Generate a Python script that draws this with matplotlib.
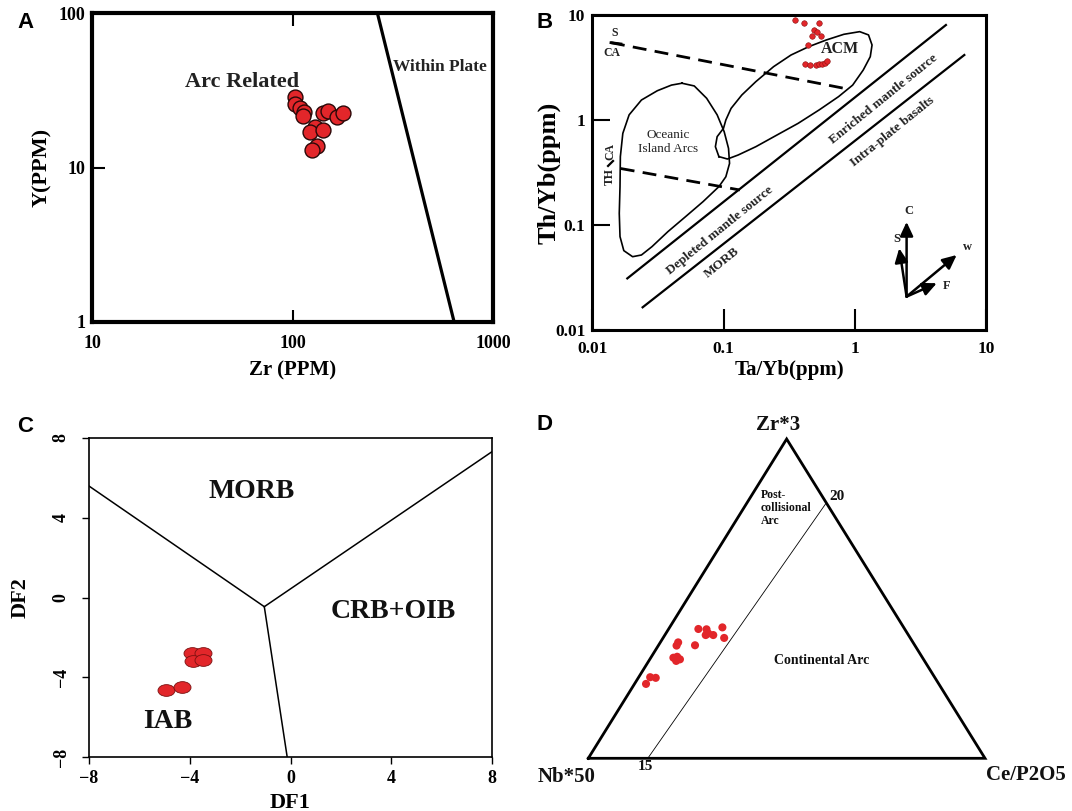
import numpy as np
import matplotlib
matplotlib.use('Agg')
import matplotlib.pyplot as plt
from matplotlib.path import Path
from matplotlib.transforms import Affine2D
from matplotlib.ticker import NullLocator, FixedLocator

SERIF = 'Liberation Serif'
SANS = 'Liberation Sans'
RED = '#e2262a'

plt.rcParams['font.family'] = [SERIF, 'DejaVu Serif']
plt.rcParams['font.weight'] = 'bold'
plt.rcParams['axes.labelweight'] = 'bold'

# ---------------- Panel A data: Zr vs Y ----------------
a_zr = [103, 103, 109, 114, 113, 142, 150, 167, 179, 130, 122, 142, 133, 125]
a_y = [28.7, 25.8, 24.3, 22.9, 21.5, 22.5, 23.2, 21.2, 22.5, 18.3, 17.0, 17.5, 13.8, 13.0]
a_wp_zr = [265, 640]
a_wp_y = [100, 1]
a_xticks = [10, 100, 1000]
a_yticks = [1, 10, 100]

# ---------------- Panel B data: Ta/Yb vs Th/Yb ----------------
b_ta = [0.351, 0.412, 0.535, 0.487, 0.512, 0.467, 0.551, 0.438,
        0.418, 0.458, 0.502, 0.530, 0.556, 0.586, 0.615]
b_th = [8.96, 8.45, 8.33, 7.20, 6.94, 6.35, 6.35, 5.18,
        3.39, 3.37, 3.32, 3.38, 3.45, 3.52, 3.62]
b_upper_x = [0.0185, 4.92]
b_upper_y = [0.031, 8.03]
b_lower_x = [0.0242, 6.79]
b_lower_y = [0.01645, 4.16]
b_dash1_x = [0.0139, 0.903]
b_dash1_y = [5.45, 1.96]
b_dash2_x = [0.0165, 0.133]
b_dash2_y = [0.345, 0.2155]
b_sca_x = [0.0139, 0.01655]
b_sca_y = [5.45, 5.30]
b_thca_x = [0.0132, 0.0144]
b_thca_y = [0.365, 0.407]
b_oia_x = [0.0482, 0.0598, 0.0743, 0.0893, 0.101, 0.109, 0.111, 0.104, 0.0921,
           0.0698, 0.0513, 0.0377, 0.0285, 0.0237, 0.0203, 0.0174, 0.01628,
           0.01607, 0.01628, 0.01638, 0.0171, 0.0191, 0.0237, 0.0313, 0.0401, 0.0482]
b_oia_y = [2.24, 2.11, 1.61, 1.12, 0.774, 0.537, 0.386, 0.288, 0.232,
           0.167, 0.120, 0.0865, 0.0622, 0.0518, 0.0499, 0.0570, 0.0775,
           0.129, 0.232, 0.448, 0.746, 1.12, 1.55, 1.90, 2.15, 2.24]
b_acm_x = [0.0921, 0.0866, 0.0893, 0.0998, 0.104, 0.114, 0.1376, 0.176, 0.240,
           0.326, 0.444, 0.604, 0.823, 1.086, 1.267, 1.348, 1.307, 1.155, 0.960,
           0.750, 0.535, 0.369, 0.255, 0.176, 0.129, 0.107, 0.0921]
b_acm_y = [0.448, 0.557, 0.694, 0.833, 1.0, 1.29, 1.73, 2.32, 3.22,
           4.16, 4.99, 5.78, 6.55, 6.94, 6.46, 5.18, 4.01, 2.99, 2.15,
           1.67, 1.25, 0.929, 0.720, 0.557, 0.464, 0.425, 0.448]
b_vec_origin = (2.47, 0.0208)
b_vec_tips = {'C': (2.47, 0.107), 'S': (2.17, 0.060), 'W': (5.94, 0.0518), 'F': (4.19, 0.0279)}
b_ticks = [0.01, 0.1, 1, 10]
b_ticklabels = ['0.01', '0.1', '1', '10']

# ---------------- Panel C data: DF1 vs DF2 ----------------
c_df1 = [-3.93, -3.47, -3.89, -3.47, -4.96, -4.30]
c_df2 = [-2.76, -2.76, -3.16, -3.13, -4.63, -4.50]
c_junction = (-1.04, -0.46)
c_ends_x = [-8, 8, -0.13]
c_ends_y = [5.58, 7.30, -8]
c_ticks = [-8, -4, 0, 4, 8]

# ---------------- Panel D data: ternary (percent) ----------------
d_zr3 = [40.5, 40.4, 39.1, 38.6, 38.6, 41.0, 37.7, 35.4, 36.3, 35.3, 31.5, 31.8, 31.0, 30.5, 25.4, 25.2, 23.3]
d_cep = [7.5, 9.6, 10.7, 10.3, 12.2, 13.3, 15.4, 9.2, 4.5, 4.6, 5.7, 6.5, 7.6, 6.9, 2.9, 4.4, 2.9]
d_nb50 = [52.0, 50.0, 50.2, 51.1, 49.2, 45.7, 46.9, 55.4, 59.2, 60.1, 62.8, 61.7, 61.4, 62.6, 71.7, 70.4, 73.8]
d_bound_zr3 = [80, 0]
d_bound_cep = [20, 15]
d_bound_nb50 = [0, 85]

W, H = 1072, 811
fig = plt.figure(figsize=(W / 100, H / 100), dpi=100)


def px_axes(left, top, right, bottom):
    return fig.add_axes([left / W, 1 - bottom / H, (right - left) / W, (bottom - top) / H])


def style_ticklabels(ax, size):
    for lab in ax.get_xticklabels() + ax.get_yticklabels():
        lab.set_fontsize(size)
        lab.set_fontweight('bold')


# ================= Panel A =================
axA = px_axes(92, 13, 493, 322)
axA.set_xscale('log')
axA.set_yscale('log')
axA.set_xlim(10, 1000)
axA.set_ylim(1, 100)
axA.xaxis.set_major_locator(FixedLocator(a_xticks))
axA.yaxis.set_major_locator(FixedLocator(a_yticks))
axA.xaxis.set_minor_locator(NullLocator())
axA.yaxis.set_minor_locator(NullLocator())
axA.set_xticklabels([str(v) for v in a_xticks])
axA.set_yticklabels([str(v) for v in a_yticks])
axA.tick_params(axis='x', direction='in', top=True, bottom=True, length=9, width=1.5, pad=9)
axA.tick_params(axis='y', direction='in', left=True, right=False, length=9, width=1.5, pad=5)
style_ticklabels(axA, 13)
for sp in axA.spines.values():
    sp.set_linewidth(3)
axA.plot(a_wp_zr, a_wp_y, color='black', lw=2.3, zorder=2)
axA.scatter(a_zr, a_y, s=115, c=RED, edgecolors='#2a0808', linewidths=1.0, zorder=3)
axA.text(0.374, 0.777, 'Arc Related', transform=axA.transAxes, fontsize=16,
         ha='center', va='center', color='#222222')
axA.text(0.868, 0.825, 'Within Plate', transform=axA.transAxes, fontsize=12.5,
         ha='center', va='center', color='#222222')
axA.set_xlabel('Zr (PPM)', fontsize=15)
axA.xaxis.set_label_coords(0.5, -0.125)
axA.set_ylabel('Y(PPM)', fontsize=16)
axA.yaxis.set_label_coords(-0.10, 0.5)
fig.text(25 / W, 1 - 23 / H, 'A', family=SANS, weight='bold', fontsize=16, ha='center', va='center')

# ================= Panel B =================
axB = px_axes(592.2, 15, 986.4, 330)
axB.set_xscale('log')
axB.set_yscale('log')
axB.set_xlim(0.01, 10)
axB.set_ylim(0.01, 10)
axB.xaxis.set_major_locator(FixedLocator(b_ticks))
axB.yaxis.set_major_locator(FixedLocator(b_ticks))
axB.xaxis.set_minor_locator(NullLocator())
axB.yaxis.set_minor_locator(NullLocator())
axB.set_xticklabels(b_ticklabels)
axB.set_yticklabels(b_ticklabels)
axB.tick_params(axis='x', direction='in', top=False, bottom=True, length=15, width=1.5, pad=8)
axB.tick_params(axis='y', direction='in', left=True, right=False, length=13, width=1.5, pad=5)
style_ticklabels(axB, 12.5)
for sp in axB.spines.values():
    sp.set_linewidth(2.2)
axB.plot(b_upper_x, b_upper_y, color='black', lw=1.6)
axB.plot(b_lower_x, b_lower_y, color='black', lw=1.6)
axB.plot(b_dash1_x, b_dash1_y, color='black', lw=2.0, linestyle=(0, (5, 3)))
axB.plot(b_dash2_x, b_dash2_y, color='black', lw=2.0, linestyle=(0, (5, 3)))
axB.plot(b_sca_x, b_sca_y, color='black', lw=2.0)
axB.plot(b_thca_x, b_thca_y, color='black', lw=1.6)
axB.plot(b_oia_x, b_oia_y, color='black', lw=1.2)
axB.plot(b_acm_x, b_acm_y, color='black', lw=1.2)
axB.scatter(b_ta, b_th, s=16, c=RED, edgecolors='#8a1010', linewidths=0.4, zorder=3)
for key, tip in b_vec_tips.items():
    axB.annotate('', xy=tip, xytext=b_vec_origin,
                 arrowprops=dict(arrowstyle='-|>,head_length=0.6,head_width=0.28',
                                 lw=1.8, color='black', mutation_scale=14,
                                 shrinkA=0, shrinkB=0))
btxt = dict(transform=axB.transAxes, ha='center', va='center', color='#222222')
axB.text(0.804, 0.379, 'C', fontsize=9, **btxt)
axB.text(0.774, 0.288, 'S', fontsize=9, **btxt)
axB.text(0.953, 0.262, 'w', fontsize=9, **btxt)
axB.text(0.900, 0.140, 'F', fontsize=9, **btxt)
axB.text(0.056, 0.942, 'S', fontsize=8.5, **btxt)
axB.text(0.049, 0.878, 'CA', fontsize=8.5, **btxt)
axB.text(0.045, 0.487, 'TH', fontsize=8.5, rotation=90, **btxt)
axB.text(0.045, 0.566, 'CA', fontsize=8.5, rotation=90, **btxt)
axB.text(0.192, 0.598, 'Oceanic\nIsland Arcs', fontsize=9.5, fontweight='normal',
         linespacing=1.25, **btxt)
axB.text(0.629, 0.891, 'ACM', fontsize=11.5, **btxt)
rt = dict(transform=axB.transAxes, ha='center', va='center', rotation=39,
          rotation_mode='anchor', fontsize=9.5, color='#222222')
axB.text(0.738, 0.732, 'Enriched mantle source', **rt)
axB.text(0.761, 0.630, 'Intra-plate basalts', **rt)
axB.text(0.323, 0.315, 'Depleted mantle source', **rt)
axB.text(0.330, 0.214, 'MORB', **rt)
axB.set_xlabel('Ta/Yb(ppm)', fontsize=15)
axB.xaxis.set_label_coords(0.5, -0.095)
axB.set_ylabel('Th/Yb(ppm)', fontsize=19)
axB.yaxis.set_label_coords(-0.08, 0.5)
fig.text(545 / W, 1 - 22 / H, 'B', family=SANS, weight='bold', fontsize=16, ha='center', va='center')

# ================= Panel C =================
axC = px_axes(89, 437.7, 492, 757.3)
axC.set_xlim(-8, 8)
axC.set_ylim(-8, 8)
axC.set_xticks(c_ticks)
axC.set_yticks(c_ticks)
axC.set_xticklabels([str(v).replace('-', '\u2212') for v in c_ticks])
axC.set_yticklabels([str(v).replace('-', '\u2212') for v in c_ticks], rotation=90, va='center')
axC.tick_params(axis='x', direction='out', length=5, width=1, pad=4)
axC.tick_params(axis='y', direction='out', length=5, width=1, pad=9)
style_ticklabels(axC, 13)
for sp in axC.spines.values():
    sp.set_linewidth(1.2)
for ex, ey in zip(c_ends_x, c_ends_y):
    axC.plot([c_junction[0], ex], [c_junction[1], ey], color='black', lw=1.1)
ellipse = Path.unit_circle().transformed(Affine2D().scale(1.45, 1.0))
axC.scatter(c_df1, c_df2, s=150, marker=ellipse, c=RED, edgecolors='#7a1010',
            linewidths=0.6, zorder=3)
ctxt = dict(transform=axC.transAxes, ha='center', va='center', fontsize=20, color='#111111')
axC.text(0.403, 0.831, 'MORB', **ctxt)
axC.text(0.756, 0.456, 'CRB+OIB', **ctxt)
axC.text(0.196, 0.112, 'IAB', **ctxt)
axC.set_xlabel('DF1', fontsize=16)
axC.xaxis.set_label_coords(0.5, -0.112)
axC.set_ylabel('DF2', fontsize=16)
axC.yaxis.set_label_coords(-0.146, 0.5)
fig.text(25 / W, 1 - 427 / H, 'C', family=SANS, weight='bold', fontsize=16, ha='center', va='center')

# ================= Panel D =================
axD = px_axes(588.3, 439, 985, 758.3)
axD.set_xlim(0, 1)
axD.set_ylim(0, 1)
axD.axis('off')


def tern(top, left, right):
    top = np.asarray(top, float)
    left = np.asarray(left, float)
    right = np.asarray(right, float)
    tot = top + left + right
    t = top / tot
    r = right / tot
    return r + t / 2.0, t


axD.plot([0, 1, 0.5, 0], [0, 0, 1, 0], color='black', lw=2.0, clip_on=False,
         solid_joinstyle='miter')
bx, by = tern(d_bound_zr3, d_bound_nb50, d_bound_cep)
axD.plot(bx, by, color='black', lw=0.6)
dx, dy = tern(d_zr3, d_nb50, d_cep)
axD.scatter(dx, dy, s=34, c=RED, edgecolors='none', zorder=3, clip_on=False)
dtxt = dict(transform=axD.transAxes, ha='center', va='center', color='#111111')
axD.text(0.478, 1.044, 'Zr*3', fontsize=15, **dtxt)
axD.text(-0.054, -0.058, 'Nb*50', fontsize=15, **dtxt)
axD.text(1.103, -0.052, 'Ce/P2O5', fontsize=15, **dtxt)
axD.text(0.628, 0.819, '20', fontsize=11, **dtxt)
axD.text(0.145, -0.026, '15', fontsize=11, **dtxt)
axD.text(0.435, 0.784, 'Post-\ncollisional\nArc', fontsize=8.5, transform=axD.transAxes,
         ha='left', va='center', linespacing=1.15, color='#111111')
axD.text(0.588, 0.306, 'Continental Arc', fontsize=10, **dtxt)
fig.text(544 / W, 1 - 425 / H, 'D', family=SANS, weight='bold', fontsize=16, ha='center', va='center')

fig.savefig('out.png', dpi=100)
